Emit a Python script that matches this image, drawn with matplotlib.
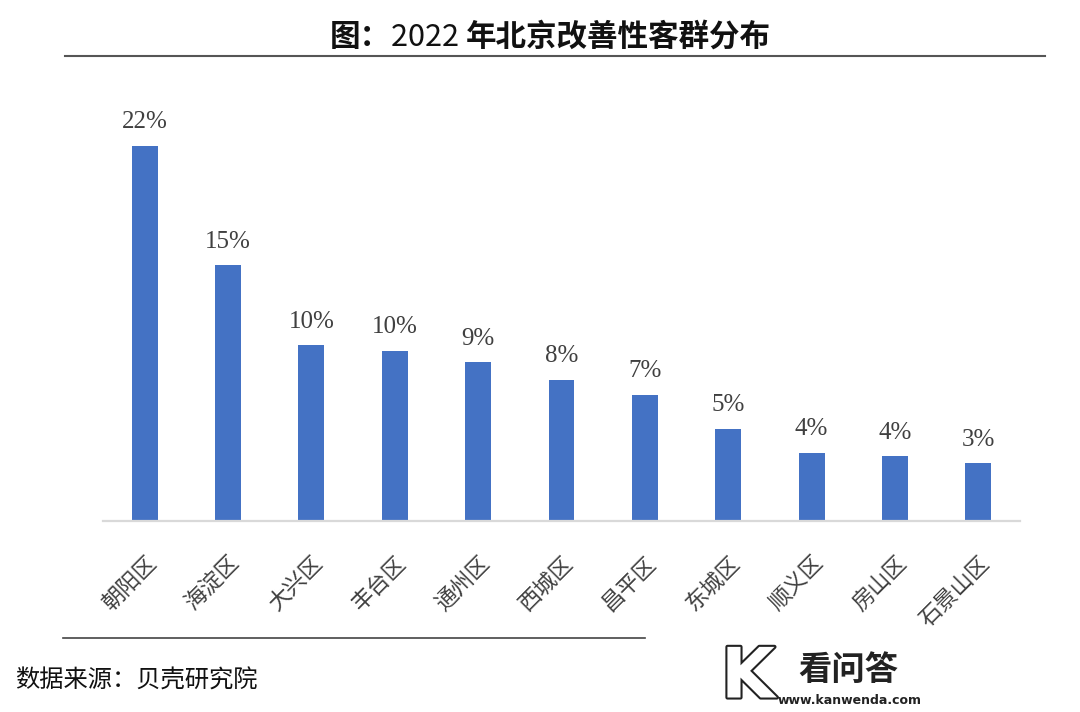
import matplotlib
matplotlib.use('Agg')
import matplotlib.pyplot as plt
import matplotlib.patheffects as pe
from matplotlib.lines import Line2D

plt.rcParams['font.family'] = ['Noto Sans CJK SC', 'DejaVu Sans']

# data
districts = ['朝阳区', '海淀区', '大兴区', '丰台区', '通州区', '西城区',
             '昌平区', '东城区', '顺义区', '房山区', '石景山区']
shares = [22.0, 15.0, 10.3, 10.0, 9.3, 8.3, 7.4, 5.4, 4.0, 3.8, 3.4]

# title pieces: (text, bold?)
title_parts = [('图：', True), ('2022 ', False), ('年北京改善性客群分布', True)]
source = '数据来源：贝壳研究院'

BAR_BLUE = '#4472C4'
TEXT_GRAY = '#404040'

fig = plt.figure(figsize=(10.8, 7.12), dpi=100)
W, H = 1080, 712

# axes placed by pixel positions of the original
ax = fig.add_axes([103 / W, 1 - 521 / H, (1020 - 103) / W, (521 - 100) / H])
x = range(len(districts))
bars = ax.bar(x, shares, width=0.31, color=BAR_BLUE, zorder=2)
ax.set_xlim(-0.5, len(districts) - 0.5)
ax.set_ylim(0, 22 * 421 / 375)

for rect, v in zip(bars, shares):
    ax.annotate(f'{round(v)}%', (rect.get_x() + rect.get_width() / 2, v),
                xytext=(0, 9), textcoords='offset points',
                ha='center', va='bottom', fontsize=18, color=TEXT_GRAY,
                family=['Liberation Serif'])

for s in ['top', 'right', 'left']:
    ax.spines[s].set_visible(False)
ax.spines['bottom'].set_color('#D9D9D9')
ax.spines['bottom'].set_linewidth(1.6)
ax.set_yticks([])
ax.set_xticks(list(x))
ax.set_xticklabels(districts, rotation=45, ha='right', va='top',
                   rotation_mode='anchor', fontsize=16, color=TEXT_GRAY,
                   fontweight='light')
ax.tick_params(axis='x', length=0, pad=22)

# title built from pieces so the year stays regular weight
renderer = fig.canvas.get_renderer()
pieces = []
for txt, bold in title_parts:
    t = fig.text(0, 1 - 37 / H, txt, ha='left', va='center', fontsize=22,
                 fontweight='bold' if bold else 'normal', color='#111111')
    pieces.append(t)
widths = [p.get_window_extent(renderer).width for p in pieces]
start = 550 - sum(widths) / 2
for p, w in zip(pieces, widths):
    p.set_x(start / W)
    start += w

fig.add_artist(Line2D([65 / W, 1045 / W], [1 - 56 / H, 1 - 56 / H],
                      color='#555555', lw=1.5))
fig.add_artist(Line2D([63 / W, 645 / W], [1 - 638 / H, 1 - 638 / H],
                      color='#444444', lw=1.2))
fig.text(15 / W, 1 - 681 / H, source, ha='left', va='center',
         fontsize=17.5, color='#111111')

# watermark
fig.text(748 / W, 1 - 678 / H, 'K', ha='center', va='center', fontsize=50,
         fontweight='bold', color='white', family=['DejaVu Sans'],
         path_effects=[pe.withStroke(linewidth=3, foreground='#222222')])
fig.text(848 / W, 1 - 670 / H, '看问答', ha='center', va='center',
         fontsize=24, fontweight='bold', color='#222222')
fig.text(850 / W, 1 - 701 / H, 'www.kanwenda.com', ha='center', va='center',
         fontsize=9, fontweight='bold', color='#222222', family=['DejaVu Sans'])

fig.savefig('out.png', dpi=100, facecolor='white')
